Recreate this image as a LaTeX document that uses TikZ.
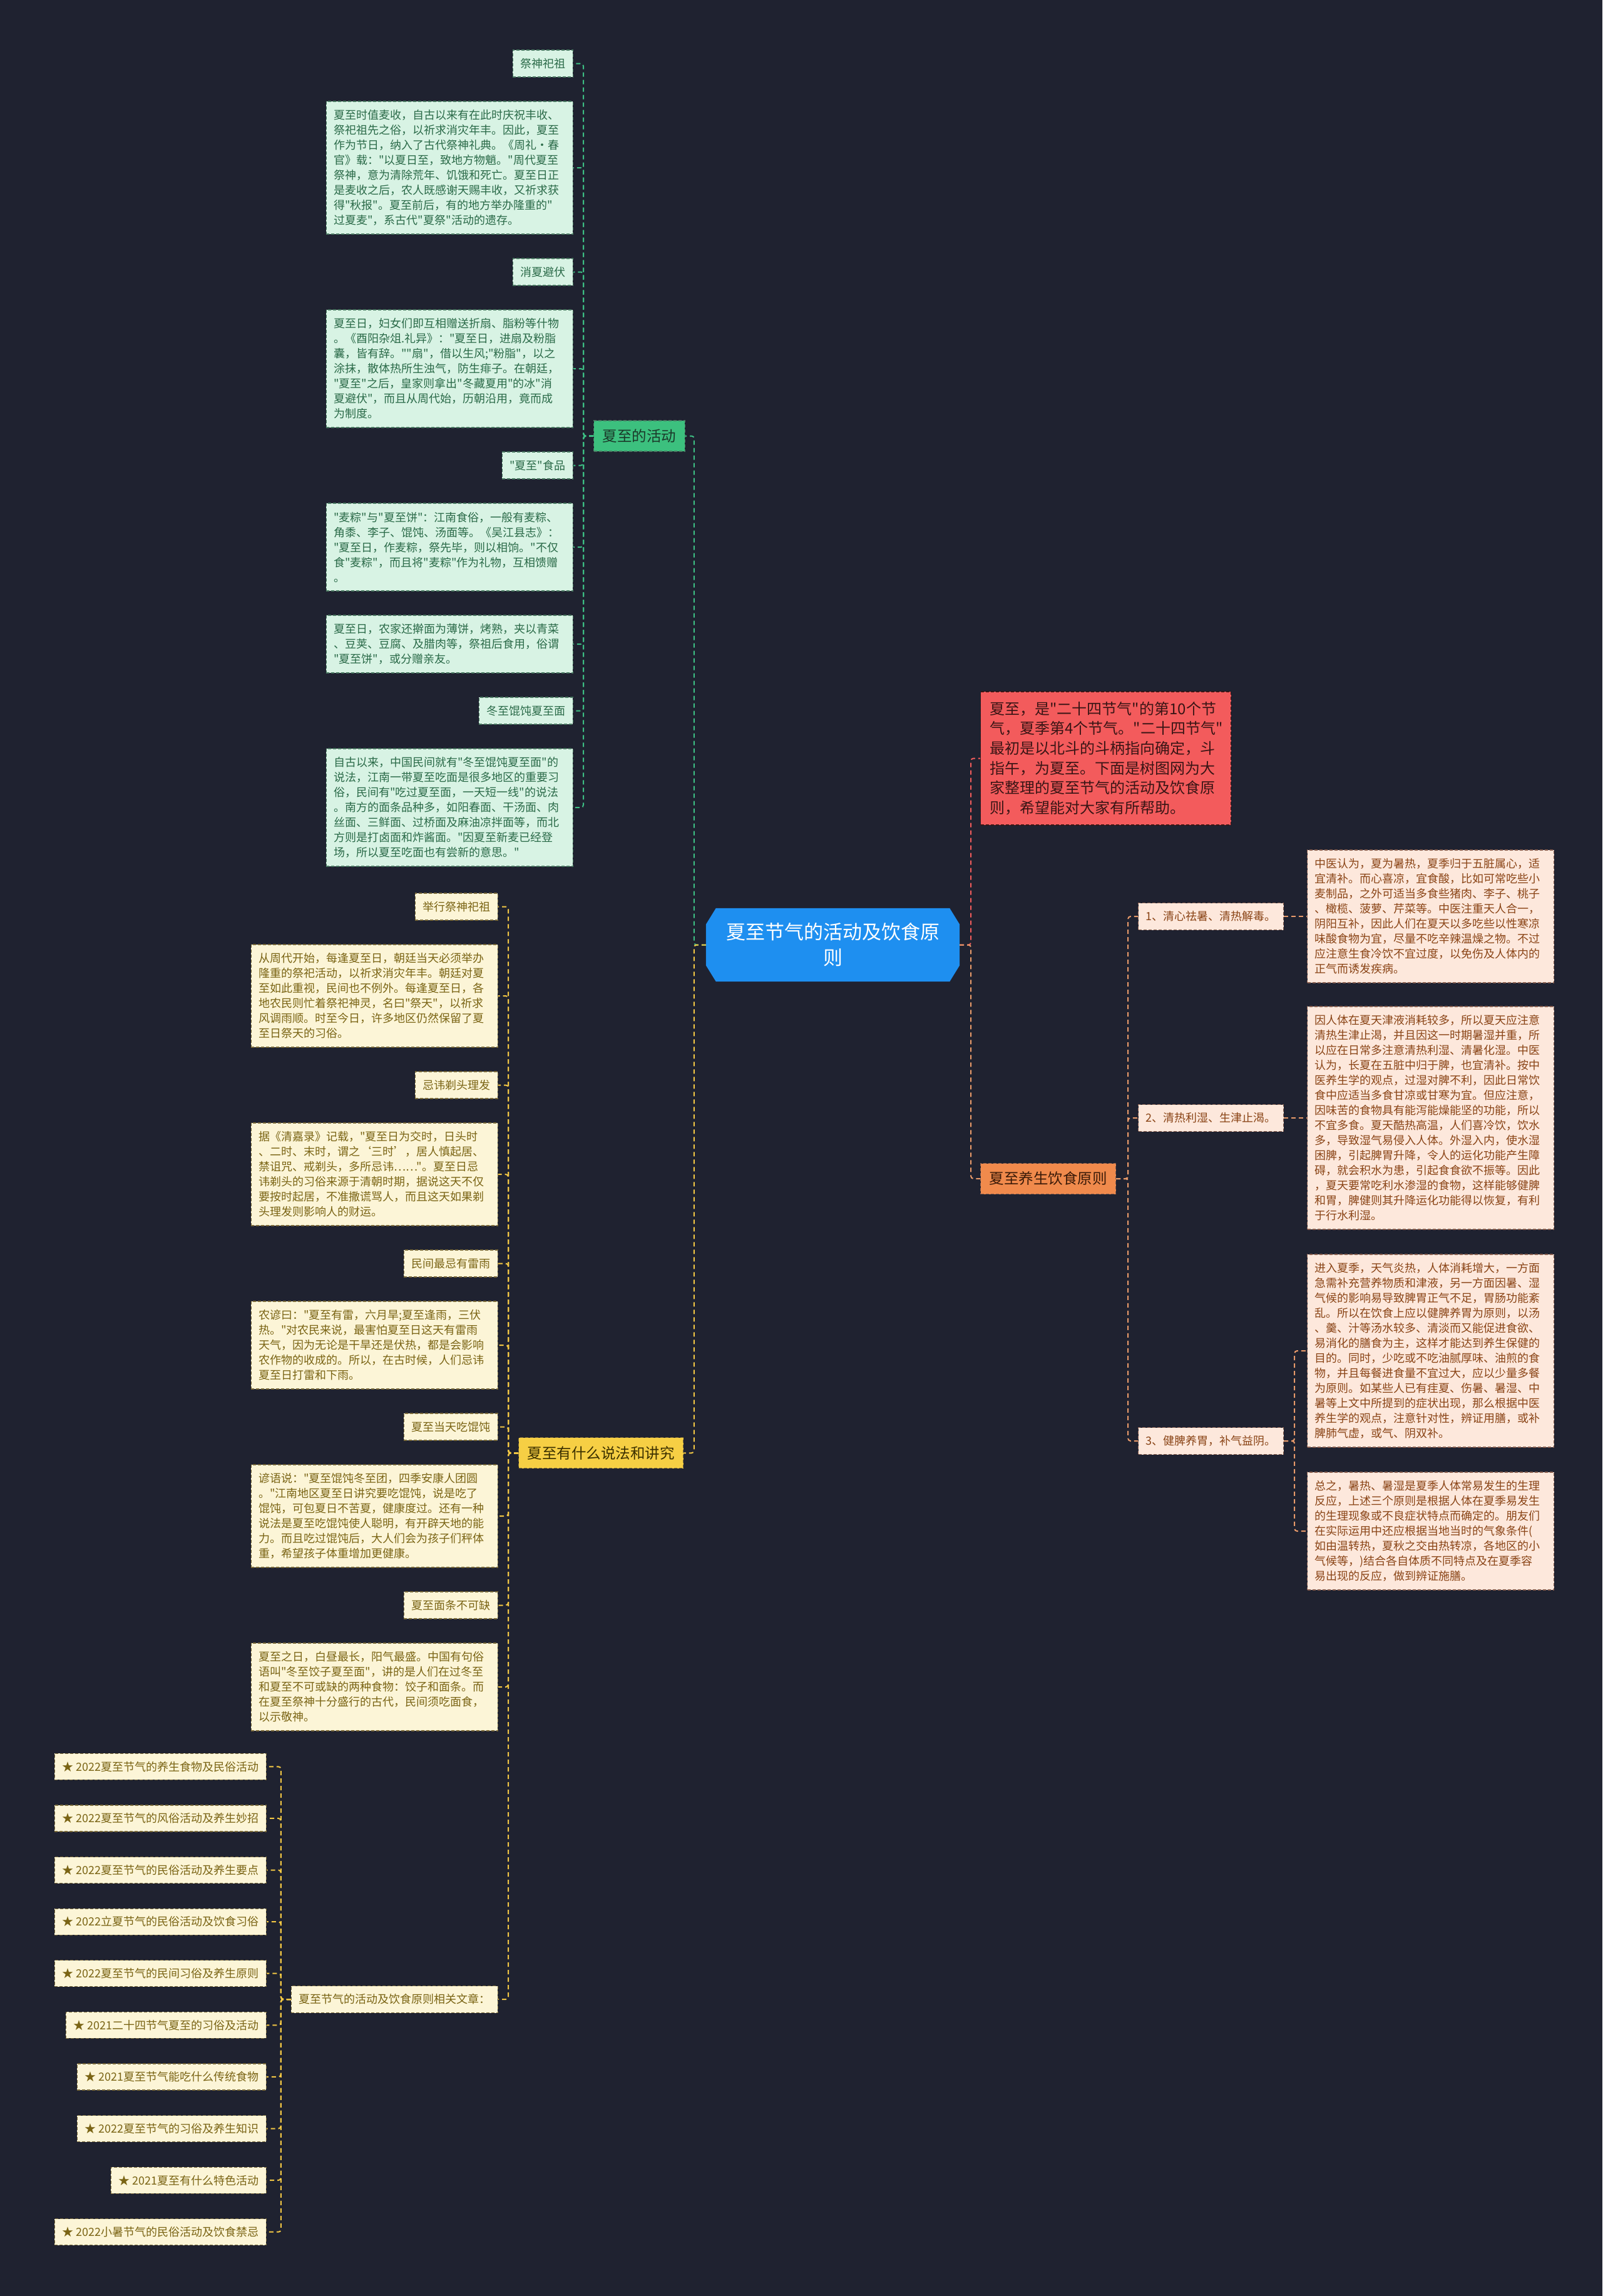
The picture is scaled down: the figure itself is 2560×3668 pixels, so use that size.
\documentclass[tikz,border=0pt]{standalone}
\usepackage{fontspec}
\newfontfamily\cjkf{Noto Sans CJK SC}
\usetikzlibrary{backgrounds}
\definecolor{bgc}{HTML}{1F2230}
\definecolor{gfill}{HTML}{D8F3E4}
\definecolor{gtext}{HTML}{2A6A48}
\definecolor{gborder}{HTML}{4A7A62}
\definecolor{gline}{HTML}{3DBF84}
\definecolor{gbr}{HTML}{3CC07E}
\definecolor{gbrtext}{HTML}{1B3A2A}
\definecolor{yfill}{HTML}{FCF5D7}
\definecolor{ytext}{HTML}{7A6414}
\definecolor{yborder}{HTML}{7A6A3A}
\definecolor{yline}{HTML}{F2C744}
\definecolor{ybr}{HTML}{F6CF44}
\definecolor{ybrtext}{HTML}{3B3000}
\definecolor{rfill}{HTML}{FDE8DC}
\definecolor{rtext}{HTML}{8A4416}
\definecolor{rborder}{HTML}{8A6050}
\definecolor{rline}{HTML}{E89A6A}
\definecolor{obr}{HTML}{F08A4C}
\definecolor{obrtext}{HTML}{3A1A08}
\definecolor{redfill}{HTML}{F35B5C}
\definecolor{redtext}{HTML}{3A1515}
\definecolor{redline}{HTML}{F05C5C}
\definecolor{rootc}{HTML}{1E8FF0}
\newcommand\sfsz{\cjkf\fontsize{18}{24}\selectfont}
\newcommand\brfsz{\cjkf\fontsize{23.5}{28}\selectfont}
\newcommand\infsz{\cjkf\fontsize{24}{31.7}\selectfont}
\newcommand\rtfsz{\cjkf\fontsize{31}{41}\selectfont}
\begin{document}
\begin{tikzpicture}[x=1pt,y=-1pt,
  basebox/.style={inner xsep=12pt, inner ysep=0pt, dash pattern=on 5pt off 3pt, line width=1.2pt, font=\sfsz},
  gbox/.style={basebox, draw=gborder, fill=gfill, text=gtext},
  ybox/.style={basebox, draw=yborder, fill=yfill, text=ytext},
  rbox/.style={basebox, draw=rborder, fill=rfill, text=rtext},
  lbl/.style={minimum height=43pt},
  parabox/.style={text width=370pt, align=left},
  conn/.style={line width=2pt, dash pattern=on 7pt off 5pt, rounded corners=4pt},
  gconn/.style={conn, draw=gline},
  yconn/.style={conn, draw=yline},
  oconn/.style={conn, draw=rline},
  redconn/.style={conn, draw=redline},
  brnode/.style={inner xsep=14pt, inner ysep=0pt, minimum height=49pt, font=\brfsz, dash pattern=on 5pt off 3pt, line width=1.2pt},
]
\useasboundingbox (0,0) rectangle (2560,3668);

% root
\node[minimum width=405pt, minimum height=117pt, inner sep=0pt, text=white, align=center, font=\rtfsz] (root) at (1330.5,1509.5) {夏至节气的活动及饮食原\\则};

% main branches
\node[brnode, fill=gbr, draw=gborder, text=gbrtext, anchor=west] (ga) at (948,696.5) {夏至的活动};
\node[brnode, fill=ybr, draw=yborder, text=ybrtext, anchor=west] (yb) at (828,2321.25) {夏至有什么说法和讲究};
\node[basebox, fill=redfill, draw=redtext, text=redtext, font=\infsz, inner xsep=15pt, text width=370pt, align=left, minimum height=213pt, anchor=west] (intro) at (1566,1211.5) {夏至，是"二十四节气"的第10个节\\气，夏季第4个节气。"二十四节气"\\最初是以北斗的斗柄指向确定，斗\\指午，为夏至。下面是树图网为大\\家整理的夏至节气的活动及饮食原\\则，希望能对大家有所帮助。};
\node[brnode, fill=obr, draw=rborder, text=obrtext, anchor=west] (ro) at (1566,1883) {夏至养生饮食原则};

% green cluster
\node[gbox, lbl, anchor=east] (gl1) at (916,101.5) {祭神祀祖};
\node[gbox, parabox, anchor=east, minimum height=212pt] (gp1) at (916,268) {夏至时值麦收，自古以来有在此时庆祝丰收、\\祭祀祖先之俗，以祈求消灾年丰。因此，夏至\\作为节日，纳入了古代祭神礼典。《周礼·春\\官》载："以夏日至，致地方物魈。"周代夏至\\祭神，意为清除荒年、饥饿和死亡。夏至日正\\是麦收之后，农人既感谢天赐丰收，又祈求获\\得"秋报"。夏至前后，有的地方举办隆重的"\\过夏麦"，系古代"夏祭"活动的遗存。};
\node[gbox, lbl, anchor=east] (gl2) at (916,434.5) {消夏避伏};
\node[gbox, parabox, anchor=east, minimum height=188pt] (gp2) at (916,589) {夏至日，妇女们即互相赠送折扇、脂粉等什物\\。《酉阳杂俎.礼异》："夏至日，进扇及粉脂\\囊，皆有辞。""扇"，借以生风;"粉脂"，以之\\涂抹，散体热所生浊气，防生痱子。在朝廷，\\"夏至"之后，皇家则拿出"冬藏夏用"的冰"消\\夏避伏"，而且从周代始，历朝沿用，竟而成\\为制度。};
\node[gbox, lbl, anchor=east] (gl3) at (916,743.5) {"夏至"食品};
\node[gbox, parabox, anchor=east, minimum height=140pt] (gp3) at (916,874) {"麦粽"与"夏至饼"：江南食俗，一般有麦粽、\\角黍、李子、馄饨、汤面等。《吴江县志》：\\"夏至日，作麦粽，祭先毕，则以相饷。"不仅\\食"麦粽"，而且将"麦粽"作为礼物，互相馈赠\\。};
\node[gbox, parabox, anchor=east, minimum height=92pt] (gp4) at (916,1029) {夏至日，农家还擀面为薄饼，烤熟，夹以青菜\\、豆荚、豆腐、及腊肉等，祭祖后食用，俗谓\\"夏至饼"，或分赠亲友。};
\node[gbox, lbl, anchor=east] (gl4) at (916,1135.5) {冬至馄饨夏至面};
\node[gbox, parabox, anchor=east, minimum height=188pt] (gp5) at (916,1290) {自古以来，中国民间就有"冬至馄饨夏至面"的\\说法，江南一带夏至吃面是很多地区的重要习\\俗，民间有"吃过夏至面，一天短一线"的说法\\。南方的面条品种多，如阳春面、干汤面、肉\\丝面、三鲜面、过桥面及麻油凉拌面等，而北\\方则是打卤面和炸酱面。"因夏至新麦已经登\\场，所以夏至吃面也有尝新的意思。"};

% yellow cluster
\node[ybox, lbl, anchor=east] (yl1) at (796,1448.5) {举行祭神祀祖};
\node[ybox, parabox, anchor=east, minimum height=164pt] (yp1) at (796,1591) {从周代开始，每逢夏至日，朝廷当天必须举办\\隆重的祭祀活动，以祈求消灾年丰。朝廷对夏\\至如此重视，民间也不例外。每逢夏至日，各\\地农民则忙着祭祀神灵，名曰"祭天"，以祈求\\风调雨顺。时至今日，许多地区仍然保留了夏\\至日祭天的习俗。};
\node[ybox, lbl, anchor=east] (yl2) at (796,1733.5) {忌讳剃头理发};
\node[ybox, parabox, anchor=east, minimum height=164pt] (yp2) at (796,1876) {据《清嘉录》记载，"夏至日为交时，日头时\\、二时、末时，谓之‘三时’，居人慎起居、\\禁诅咒、戒剃头，多所忌讳……"。夏至日忌\\讳剃头的习俗来源于清朝时期，据说这天不仅\\要按时起居，不准撒谎骂人，而且这天如果剃\\头理发则影响人的财运。};
\node[ybox, lbl, anchor=east] (yl3) at (796,2018.5) {民间最忌有雷雨};
\node[ybox, parabox, anchor=east, minimum height=140pt] (yp3) at (796,2149) {农谚曰："夏至有雷，六月旱;夏至逢雨，三伏\\热。"对农民来说，最害怕夏至日这天有雷雨\\天气，因为无论是干旱还是伏热，都是会影响\\农作物的收成的。所以，在古时候，人们忌讳\\夏至日打雷和下雨。};
\node[ybox, lbl, anchor=east] (yl4) at (796,2279.5) {夏至当天吃馄饨};
\node[ybox, parabox, anchor=east, minimum height=164pt] (yp4) at (796,2422) {谚语说："夏至馄饨冬至团，四季安康人团圆\\。"江南地区夏至日讲究要吃馄饨，说是吃了\\馄饨，可包夏日不苦夏，健康度过。还有一种\\说法是夏至吃馄饨使人聪明，有开辟天地的能\\力。而且吃过馄饨后，大人们会为孩子们秤体\\重，希望孩子体重增加更健康。};
\node[ybox, lbl, anchor=east] (yl5) at (796,2564.5) {夏至面条不可缺};
\node[ybox, parabox, anchor=east, minimum height=140pt] (yp5) at (796,2695) {夏至之日，白昼最长，阳气最盛。中国有句俗\\语叫"冬至饺子夏至面"，讲的是人们在过冬至\\和夏至不可或缺的两种食物：饺子和面条。而\\在夏至祭神十分盛行的古代，民间须吃面食，\\以示敬神。};
\node[ybox, lbl, anchor=east] (yr) at (796,3194) {夏至节气的活动及饮食原则相关文章：};

% list
\node[ybox, minimum height=42pt, anchor=east] (li1) at (426,2822.3) {★ 2022夏至节气的养生食物及民俗活动};
\node[ybox, minimum height=42pt, anchor=east] (li2) at (426,2904.9) {★ 2022夏至节气的风俗活动及养生妙招};
\node[ybox, minimum height=42pt, anchor=east] (li3) at (426,2987.5) {★ 2022夏至节气的民俗活动及养生要点};
\node[ybox, minimum height=42pt, anchor=east] (li4) at (426,3070.1) {★ 2022立夏节气的民俗活动及饮食习俗};
\node[ybox, minimum height=42pt, anchor=east] (li5) at (426,3152.7) {★ 2022夏至节气的民间习俗及养生原则};
\node[ybox, minimum height=42pt, anchor=east] (li6) at (426,3235.3) {★ 2021二十四节气夏至的习俗及活动};
\node[ybox, minimum height=42pt, anchor=east] (li7) at (426,3317.9) {★ 2021夏至节气能吃什么传统食物};
\node[ybox, minimum height=42pt, anchor=east] (li8) at (426,3400.5) {★ 2022夏至节气的习俗及养生知识};
\node[ybox, minimum height=42pt, anchor=east] (li9) at (426,3483.1) {★ 2021夏至有什么特色活动};
\node[ybox, minimum height=42pt, anchor=east] (li10) at (426,3565.7) {★ 2022小暑节气的民俗活动及饮食禁忌};

% right cluster
\node[rbox, lbl, anchor=west] (rl1) at (1818,1464) {1、清心祛暑、清热解毒。};
\node[rbox, parabox, anchor=west, minimum height=212pt] (rp1) at (2088,1464) {中医认为，夏为暑热，夏季归于五脏属心，适\\宜清补。而心喜凉，宜食酸，比如可常吃些小\\麦制品，之外可适当多食些猪肉、李子、桃子\\、橄榄、菠萝、芹菜等。中医注重天人合一，\\阴阳互补，因此人们在夏天以多吃些以性寒凉\\味酸食物为宜，尽量不吃辛辣温燥之物。不过\\应注意生食冷饮不宜过度，以免伤及人体内的\\正气而诱发疾病。};
\node[rbox, lbl, anchor=west] (rl2) at (1818,1786) {2、清热利湿、生津止渴。};
\node[rbox, parabox, anchor=west, minimum height=356pt] (rp2) at (2088,1786) {因人体在夏天津液消耗较多，所以夏天应注意\\清热生津止渴，并且因这一时期暑湿并重，所\\以应在日常多注意清热利湿、清暑化湿。中医\\认为，长夏在五脏中归于脾，也宜清补。按中\\医养生学的观点，过湿对脾不利，因此日常饮\\食中应适当多食甘凉或甘寒为宜。但应注意，\\因味苦的食物具有能泻能燥能坚的功能，所以\\不宜多食。夏天酷热高温，人们喜冷饮，饮水\\多，导致湿气易侵入人体。外湿入内，使水湿\\困脾，引起脾胃升降，令人的运化功能产生障\\碍，就会积水为患，引起食食欲不振等。因此\\，夏天要常吃利水渗湿的食物，这样能够健脾\\和胃，脾健则其升降运化功能得以恢复，有利\\于行水利湿。};
\node[rbox, lbl, anchor=west] (rl3) at (1818,2302) {3、健脾养胃，补气益阴。};
\node[rbox, parabox, anchor=west, minimum height=308pt] (rp3) at (2088,2158) {进入夏季，天气炎热，人体消耗增大，一方面\\急需补充营养物质和津液，另一方面因暑、湿\\气候的影响易导致脾胃正气不足，胃肠功能紊\\乱。所以在饮食上应以健脾养胃为原则，以汤\\、羹、汁等汤水较多、清淡而又能促进食欲、\\易消化的膳食为主，这样才能达到养生保健的\\目的。同时，少吃或不吃油腻厚味、油煎的食\\物，并且每餐进食量不宜过大，应以少量多餐\\为原则。如某些人已有疰夏、伤暑、暑湿、中\\暑等上文中所提到的症状出现，那么根据中医\\养生学的观点，注意针对性，辨证用膳，或补\\脾肺气虚，或气、阴双补。};
\node[rbox, parabox, anchor=west, minimum height=188pt] (rp4) at (2088,2446) {总之，暑热、暑湿是夏季人体常易发生的生理\\反应，上述三个原则是根据人体在夏季易发生\\的生理现象或不良症状特点而确定的。朋友们\\在实际运用中还应根据当地当时的气象条件(\\如由温转热，夏秋之交由热转凉，各地区的小\\气候等，)结合各自体质不同特点及在夏季容\\易出现的反应，做到辨证施膳。};

% connectors: root to branches
\draw[gconn] (root.west) -- ++(-19,0) |- (ga.east);
\draw[yconn] (root.west) -- ++(-19,0) |- (yb.east);
\draw[redconn] (root.east) -- ++(18,0) |- (intro.west);
\draw[oconn] (root.east) -- ++(18,0) |- (ro.west);

% green
\foreach \n in {gl1,gp1,gl2,gp2,gl3,gp3,gp4,gl4,gp5}
  \draw[gconn] (ga.west) -- ++(-16,0) |- (\n.east);
% yellow
\foreach \n in {yl1,yp1,yl2,yp2,yl3,yp3,yl4,yp4,yl5,yp5,yr}
  \draw[yconn] (yb.west) -- ++(-16,0) |- (\n.east);
\foreach \n in {li1,li2,li3,li4,li5,li6,li7,li8,li9,li10}
  \draw[yconn] (yr.west) -- ++(-16,0) |- (\n.east);
% right
\foreach \n in {rl1,rl2,rl3}
  \draw[oconn] (ro.east) -- ++(19,0) |- (\n.west);
\draw[oconn] (rl1.east) -- (rp1.west);
\draw[oconn] (rl2.east) -- (rp2.west);
\draw[oconn] (rl3.east) -- ++(17,0) |- (rp3.west);
\draw[oconn] (rl3.east) -- ++(17,0) |- (rp4.west);

\begin{scope}[on background layer]
\fill[bgc] (0,0) rectangle (2560,3668);
\fill[rootc] ([xshift=16pt]root.north west) -- ([xshift=-16pt]root.north east) -- ([yshift=-26pt]root.north east) -- ([yshift=26pt]root.south east) -- ([xshift=-16pt]root.south east) -- ([xshift=16pt]root.south west) -- ([yshift=26pt]root.south west) -- ([yshift=-26pt]root.north west) -- cycle;
\end{scope}
\end{tikzpicture}
\end{document}
